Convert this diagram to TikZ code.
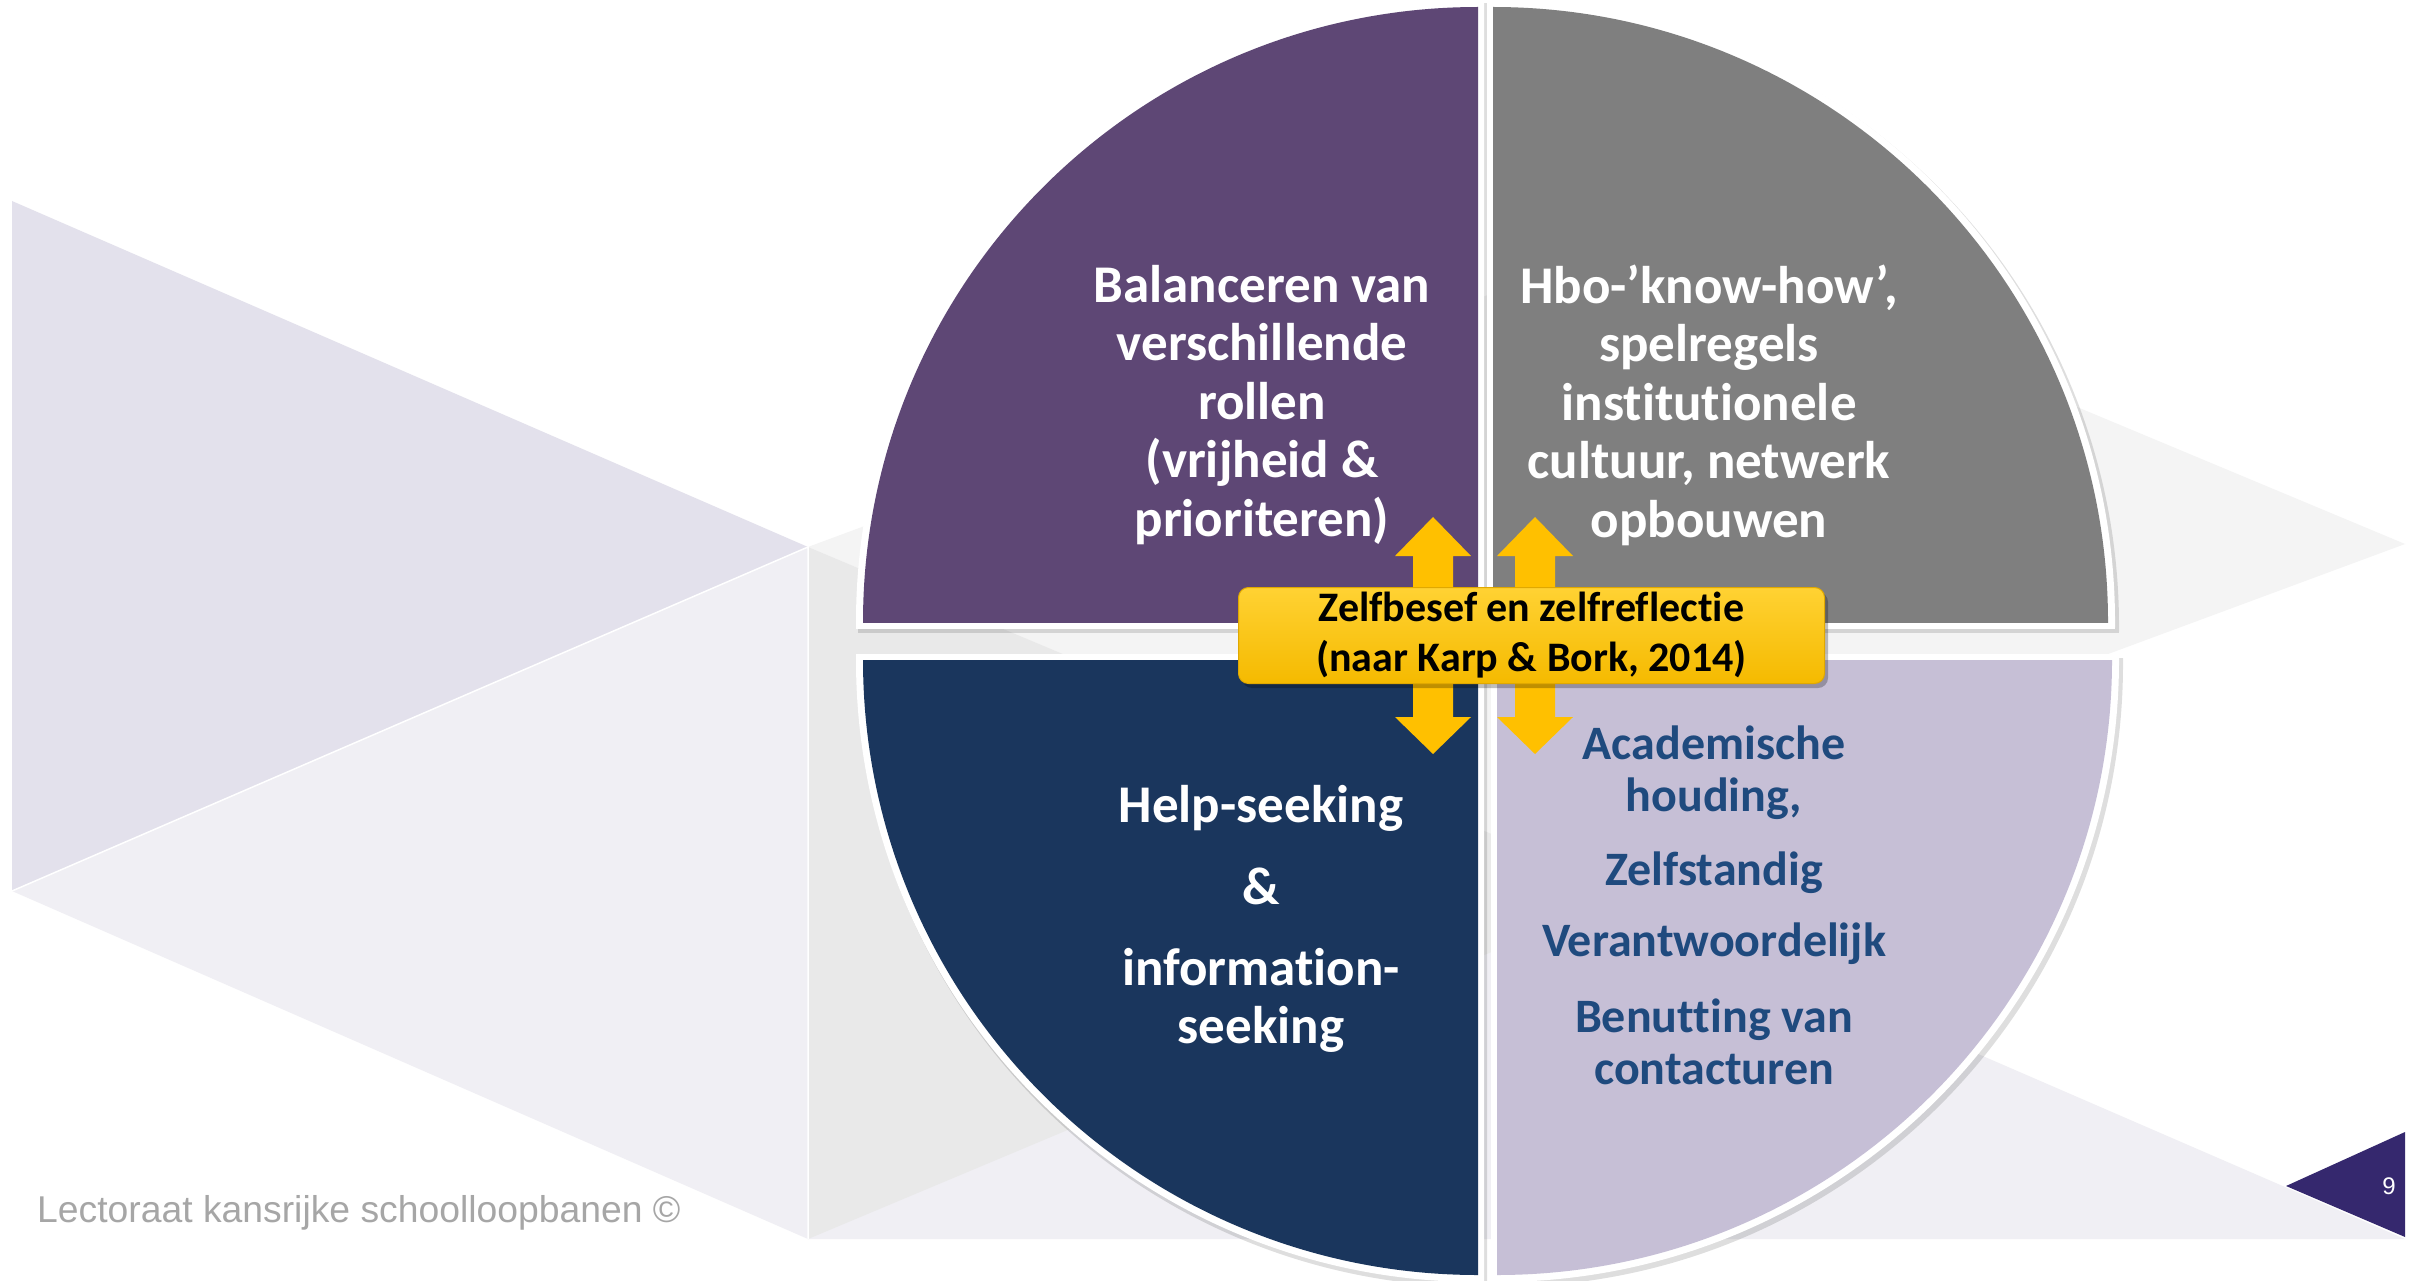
\documentclass[tikz,border=0pt]{standalone}
\usepackage{fontspec}
\setmainfont{Carlito}[Ligatures={NoCommon}]
\newfontfamily\arialfont{Liberation Sans}
\definecolor{qpurple}{HTML}{5E4775}
\definecolor{qgrey}{HTML}{7F7F7F}
\definecolor{qnavy}{HTML}{1A365D}
\definecolor{qlav}{HTML}{C6BFD6}
\definecolor{qtext}{HTML}{1F4A7E}
\definecolor{bglav}{HTML}{E3E1EC}
\definecolor{bglight}{HTML}{F0EFF4}
\definecolor{bggrey}{HTML}{E9E9E9}
\definecolor{bgpale}{HTML}{F4F4F4}
\definecolor{pagep}{HTML}{35286E}
\definecolor{ytop}{HTML}{FFD233}
\definecolor{ybot}{HTML}{F5BA00}
\definecolor{yedge}{HTML}{E0A800}
\definecolor{yarrow}{HTML}{FFC000}
\definecolor{footg}{HTML}{A6A6A6}
\tikzset{
  qlabel/.style={align=center, text=white, inner sep=0pt,
    font=\fontsize{53}{58.5}\selectfont\bfseries},
  qlabeldark/.style={qlabel, text=qtext,
    font=\fontsize{48}{52}\selectfont\bfseries},
  ybox/.style={rounded corners=10pt, top color=ytop, bottom color=ybot,
    draw=yedge, line width=1pt, minimum width=586pt, minimum height=96pt,
    align=center, inner sep=0pt, font=\fontsize{42}{50}\selectfont\bfseries},
  yarrowfill/.style={fill=yarrow},
}
\begin{document}
\begin{tikzpicture}[x=1pt,y=-1pt]
\useasboundingbox (0,0) rectangle (2425,1281);
\fill[white] (0,0) rectangle (2425,1281);
% background template shapes
\fill[bglav] (12,201) -- (808,547) -- (12,891) -- cycle;
\fill[bglight] (12,891) -- (808,547) -- (808,1239) -- cycle;
\fill[bglight] (808,547) -- (2405,1239) -- (808,1239) -- cycle;
\fill[bgpale] (808,547) -- (1658,232) -- (2405,544) -- (1552,860) -- cycle;
\fill[bggrey] (808,547) -- (1632,893) -- (808,1239) -- cycle;
\draw[white, line width=1.5pt] (12,891) -- (808,547) -- (808,1239);
% quadrant shadows
\foreach \cx/\cy/\sx/\sy in {1478/622/-1/-1, 1493/622/1/-1, 1478/660/-1/1, 1497/660/1/1}{
  \begin{scope}
    \clip ({\cx-\sx*6+3},{\cy-\sy*6+4}) rectangle ({\cx+\sx*700+3},{\cy+\sy*700+4});
    \fill[black, opacity=0.13] ({\cx+3},{\cy+4}) circle[radius=623pt];
  \end{scope}
}
% quadrant white borders
\foreach \cx/\cy/\sx/\sy in {1478/622/-1/-1, 1493/622/1/-1, 1478/660/-1/1, 1497/660/1/1}{
  \begin{scope}
    \clip ({\cx-\sx*6},{\cy-\sy*6}) rectangle ({\cx+\sx*700},{\cy+\sy*700});
    \fill[white] (\cx,\cy) circle[radius=622pt];
  \end{scope}
}
% quadrant fills
\foreach \cx/\cy/\sx/\sy/\col in {1478/622/-1/-1/qpurple, 1493/622/1/-1/qgrey, 1478/660/-1/1/qnavy, 1497/660/1/1/qlav}{
  \begin{scope}
    \clip (\cx,\cy) rectangle ({\cx+\sx*700},{\cy+\sy*700});
    \fill[\col] (\cx,\cy) circle[radius=615pt];
  \end{scope}
}
% quadrant texts
\node[qlabel] (tl) at (1262,405) {Balanceren van\\verschillende\\rollen\\(vrijheid \&\\prioriteren)};
\node[qlabel] (tr) at (1709,405) {Hbo-’know-how’,\\spelregels\\institutionele\\cultuur, netwerk\\opbouwen};
\node[qlabel] (bl) at (1261,919) {Help-seeking\\[23.5pt]\&\\[22.5pt]information-\\seeking};
\node[qlabeldark] (br) at (1714,905) {Academische\\houding,\\[22pt]Zelfstandig\\[19pt]Verantwoordelijk\\[24pt]Benutting van\\contacturen};
% yellow double arrows
\foreach \ax/\nm in {1433/al, 1535/ar}{
  \fill[yarrowfill] (\ax,517) -- ({\ax+38},556) -- ({\ax+20},556) -- ({\ax+20},717)
    -- ({\ax+38},717) -- (\ax,754) -- ({\ax-38},717) -- ({\ax-20},717)
    -- ({\ax-20},556) -- ({\ax-38},556) -- cycle;
}
% central box
\fill[black, opacity=0.25, rounded corners=10pt] (1242,592) rectangle (1828,688);
\node[ybox] (zb) at (1531.5,635.5) {Zelfbesef en zelfreflectie\\(naar Karp \& Bork, 2014)};
% footer and page number
\fill[pagep] (2286,1186) -- (2405,1132) -- (2405,1237) -- cycle;
\node[text=white, font=\arialfont\fontsize{24}{26}\selectfont, inner sep=0pt] (pg) at (2389,1186) {9};
\node[anchor=base west, text=footg, inner sep=0pt, font=\arialfont\fontsize{37.3}{40}\selectfont] (foot) at (37,1222) {Lectoraat kansrijke schoolloopbanen ©};
\end{tikzpicture}
\end{document}
